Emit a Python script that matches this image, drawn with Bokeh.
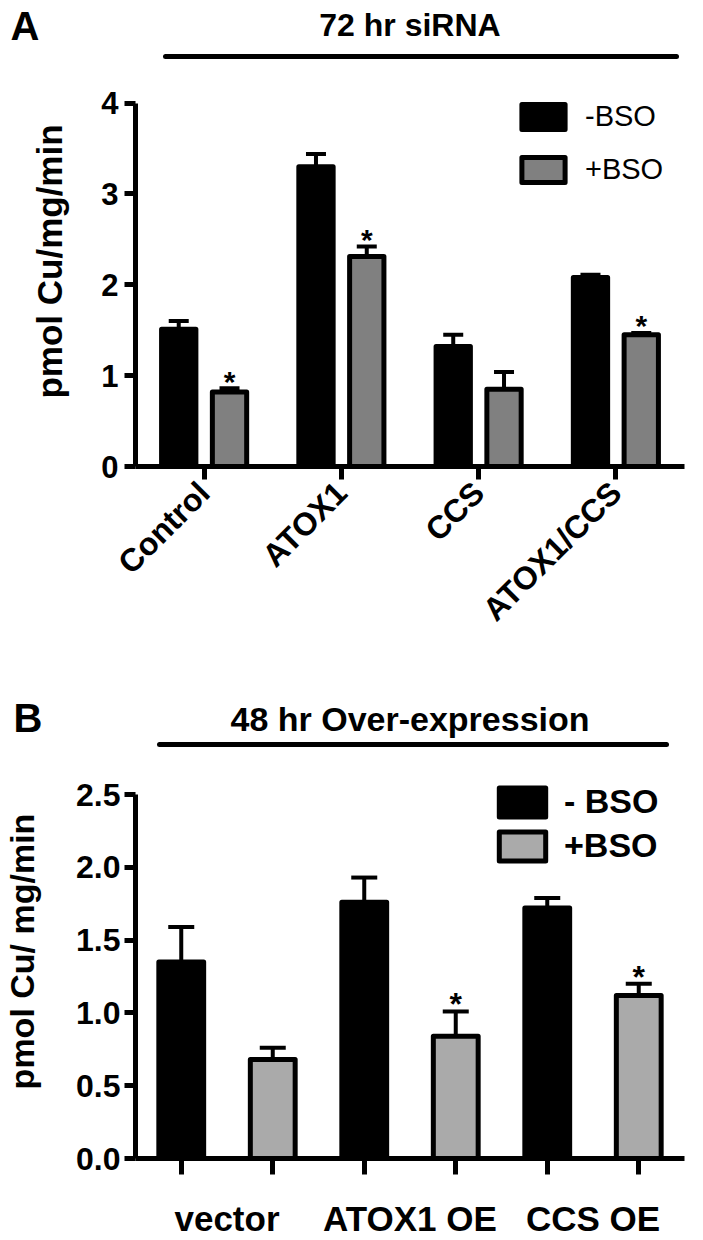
from math import pi
from bokeh.plotting import figure
from bokeh.models import (FactorRange, Range1d, CategoricalAxis, Whisker, TeeHead,
                          ColumnDataSource, Legend, LegendItem, FixedTicker,
                          CustomJSTickFormatter, PrintfTickFormatter)
from bokeh.transform import dodge
from bokeh.layouts import column
from bokeh.embed import file_html
from bokeh.resources import INLINE
from bokeh.core.properties import value

FONT = "Liberation Sans"

# ---------------- Panel A data ----------------
a_panel = "A"
a_title = "72 hr siRNA"
a_ylabel = "pmol Cu/mg/min"
a_categories = ["Control", "ATOX1", "CCS", "ATOX1/CCS"]
a_series = ["-BSO", "+BSO"]
a_minus = [1.51, 3.30, 1.32, 2.08]
a_minus_err = [0.09, 0.14, 0.13, 0.03]
a_plus = [0.82, 2.31, 0.85, 1.45]
a_plus_err = [0.04, 0.11, 0.19, 0.02]
a_plus_sig = [True, True, False, True]
a_yticks = [0, 1, 2, 3, 4]

# ---------------- Panel B data ----------------
b_panel = "B"
b_title = "48 hr Over-expression"
b_ylabel = "pmol Cu/ mg/min"
b_categories = ["vector", "ATOX1 OE", "CCS OE"]
b_series = ["- BSO", "+BSO"]
b_minus = [1.35, 1.76, 1.72]
b_minus_err = [0.24, 0.17, 0.07]
b_plus = [0.68, 0.84, 1.12]
b_plus_err = [0.08, 0.17, 0.08]
b_plus_sig = [False, True, True]
b_yticks = [0.0, 0.5, 1.0, 1.5, 2.0, 2.5]

W = 703
HA = 672
HB = 568
LW = 5


def base_style(p):
    p.outline_line_color = None
    p.xgrid.visible = False
    p.ygrid.visible = False
    p.background_fill_color = "white"
    p.border_fill_color = "white"


def style_axis_line(ax, tick_out):
    ax.axis_line_width = LW
    ax.axis_line_color = "black"
    ax.major_tick_line_width = LW
    ax.major_tick_line_color = "black"
    ax.major_tick_out = tick_out
    ax.major_tick_in = 0
    ax.minor_tick_line_color = None


def add_top_rule(p, bounds, text, size, standoff):
    # a bare axis line above the frame, with the panel heading as its label
    ax = CategoricalAxis(bounds=bounds, formatter=CustomJSTickFormatter(code="return ''"))
    ax.axis_line_width = LW
    ax.axis_line_cap = "round"
    ax.major_tick_line_color = None
    ax.minor_tick_line_color = None
    ax.major_tick_out = 0
    ax.major_label_text_font_size = "1px"
    ax.major_label_text_color = None
    ax.major_label_standoff = 0
    ax.group_text_font_size = "1px"
    ax.group_text_color = None
    ax.separator_line_color = None
    ax.axis_label = text
    ax.axis_label_text_font = FONT
    ax.axis_label_text_font_size = size
    ax.axis_label_text_font_style = "bold"
    ax.axis_label_text_color = "black"
    ax.axis_label_standoff = standoff
    p.add_layout(ax, "above")


def panel_letter(p, letter, offset, standoff):
    # two-line title whose second line drops down beside the heading
    p.title.text = "\n" + letter
    p.title.align = "left"
    p.title.vertical_align = "bottom"
    p.title.offset = offset
    p.title.text_font = FONT
    p.title.text_font_size = "40px"
    p.title.text_font_style = "bold"
    p.title.text_color = "black"
    p.title.text_line_height = 1.05
    p.title.standoff = standoff


# ======================= Panel A =======================
pa = figure(width=W, height=HA, x_range=FactorRange(factors=a_categories, range_padding=0),
            y_range=Range1d(0, 4.512), output_backend="svg", toolbar_location=None,
            min_border_left=135, min_border_right=19, min_border_top=52,
            min_border_bottom=HA - 466)
base_style(pa)
xa = pa.below[0]
ya = pa.left[0]

panel_letter(pa, a_panel, -125, -89)
add_top_rule(pa, (0.22, 3.94), a_title, "32px", 14)

style_axis_line(ya, 11)
ya.ticker = FixedTicker(ticks=a_yticks)
ya.bounds = (0, 4)
ya.major_label_standoff = 6
ya.major_label_text_font = FONT
ya.major_label_text_font_size = "31px"
ya.major_label_text_font_style = "bold"
ya.major_label_text_color = "black"
ya.axis_label = a_ylabel
ya.axis_label_text_font = FONT
ya.axis_label_text_font_size = "35px"
ya.axis_label_text_font_style = "bold"
ya.axis_label_text_color = "black"
ya.axis_label_standoff = 29

style_axis_line(xa, 13)
xa.major_label_orientation = pi / 4
xa.major_label_standoff = 8
xa.major_label_text_font = FONT
xa.major_label_text_font_size = "32px"
xa.major_label_text_font_style = "bold"
xa.major_label_text_color = "black"

A_OFF = 0.185
A_W = 0.25
src_a = ColumnDataSource(dict(
    cat=a_categories,
    minus=a_minus, minus_hi=[v + e for v, e in zip(a_minus, a_minus_err)],
    plus=a_plus, plus_hi=[v + e for v, e in zip(a_plus, a_plus_err)],
))
ra1 = pa.vbar(x=dodge("cat", -A_OFF, range=pa.x_range), top="minus", width=A_W, source=src_a,
              fill_color="black", line_color="black", line_width=LW, line_join="round")
ra2 = pa.vbar(x=dodge("cat", A_OFF, range=pa.x_range), top="plus", width=A_W, source=src_a,
              fill_color="#808080", line_color="black", line_width=LW, line_join="round")
for off, lo, hi in [(-A_OFF, "minus", "minus_hi"), (A_OFF, "plus", "plus_hi")]:
    pa.add_layout(Whisker(source=src_a, base=dodge("cat", off, range=pa.x_range), lower=lo, upper=hi,
                          line_width=4, line_color="black", lower_head=None,
                          upper_head=TeeHead(size=20, line_width=4, line_color="black")))

sig_a = [i for i, s in enumerate(a_plus_sig) if s]
src_as = ColumnDataSource(dict(cat=[a_categories[i] for i in sig_a],
                               y=[a_plus[i] + a_plus_err[i] for i in sig_a],
                               t=["*"] * len(sig_a)))
pa.text(x=dodge("cat", A_OFF, range=pa.x_range), y="y", text="t", source=src_as,
        text_font=value(FONT), text_font_size="30px", text_font_style="bold",
        text_align="center", text_baseline="alphabetic", y_offset=-7, text_color="black")

leg_a = Legend(items=[LegendItem(label=a_series[0], renderers=[ra1]),
                      LegendItem(label=a_series[1], renderers=[ra2])],
               location=(381, 280), orientation="vertical", glyph_width=54, glyph_height=31,
               label_standoff=15, spacing=20, padding=0, margin=0, border_line_color=None,
               background_fill_alpha=0, label_text_font=FONT, label_text_font_size="29px",
               label_text_font_style="normal", label_text_color="black")
pa.add_layout(leg_a)

# ======================= Panel B =======================
b_factors = [(c, s) for c in b_categories for s in b_series]
pb = figure(width=W, height=HB,
            x_range=FactorRange(factors=b_factors, range_padding=0, group_padding=0,
                                factor_padding=0, subgroup_padding=0),
            y_range=Range1d(0, 2.844), output_backend="svg", toolbar_location=None,
            min_border_left=133, min_border_right=0, min_border_top=72,
            min_border_bottom=HB - 494)
base_style(pb)
xb = pb.below[0]
yb = pb.left[0]

panel_letter(pb, b_panel, -122, -87)
add_top_rule(pb, (0.263, 5.8), b_title, "34px", 7)

style_axis_line(yb, 11)
yb.ticker = FixedTicker(ticks=b_yticks)
yb.formatter = PrintfTickFormatter(format="%.1f")
yb.bounds = (0, 2.5)
yb.major_label_standoff = 4
yb.major_label_text_font = FONT
yb.major_label_text_font_size = "32px"
yb.major_label_text_font_style = "bold"
yb.major_label_text_color = "black"
yb.axis_label = b_ylabel
yb.axis_label_text_font = FONT
yb.axis_label_text_font_size = "34px"
yb.axis_label_text_font_style = "bold"
yb.axis_label_text_color = "black"
yb.axis_label_standoff = 32

style_axis_line(xb, 16)
xb.formatter = CustomJSTickFormatter(code="return ''")
xb.major_label_text_font_size = "10px"
xb.major_label_standoff = 24
xb.group_text_font = FONT
xb.group_text_font_size = "35px"
xb.group_text_font_style = "bold"
xb.group_text_color = "black"
xb.separator_line_color = None

B_W = 0.49
src_bm = ColumnDataSource(dict(x=[(c, b_series[0]) for c in b_categories], v=b_minus,
                               hi=[v + e for v, e in zip(b_minus, b_minus_err)]))
src_bp = ColumnDataSource(dict(x=[(c, b_series[1]) for c in b_categories], v=b_plus,
                               hi=[v + e for v, e in zip(b_plus, b_plus_err)]))
rb1 = pb.vbar(x="x", top="v", width=B_W, source=src_bm, fill_color="black", line_color="black",
              line_width=LW, line_join="round")
rb2 = pb.vbar(x="x", top="v", width=B_W, source=src_bp, fill_color="#aaaaaa", line_color="black",
              line_width=LW, line_join="round")
for s in (src_bm, src_bp):
    pb.add_layout(Whisker(source=s, base="x", lower="v", upper="hi", line_width=4,
                          line_color="black", lower_head=None,
                          upper_head=TeeHead(size=26, line_width=4, line_color="black")))

sig_b = [i for i, s in enumerate(b_plus_sig) if s]
src_bs = ColumnDataSource(dict(x=[(b_categories[i], b_series[1]) for i in sig_b],
                               y=[b_plus[i] + b_plus_err[i] for i in sig_b],
                               t=["*"] * len(sig_b)))
pb.text(x="x", y="y", text="t", source=src_bs, text_font=value(FONT), text_font_size="32px",
        text_font_style="bold", text_align="center", text_baseline="alphabetic", y_offset=-7,
        text_color="black")

leg_b = Legend(items=[LegendItem(label=b_series[0], renderers=[rb1]),
                      LegendItem(label=b_series[1], renderers=[rb2])],
               location=(358, 293), orientation="vertical", glyph_width=58, glyph_height=36,
               label_standoff=13, spacing=5, padding=0, margin=0, border_line_color=None,
               background_fill_alpha=0, label_text_font=FONT, label_text_font_size="34px",
               label_text_font_style="bold", label_text_color="black")
pb.add_layout(leg_b)

layout = column(pa, pb, spacing=0)
open("out.html", "w").write(file_html(layout, INLINE))
